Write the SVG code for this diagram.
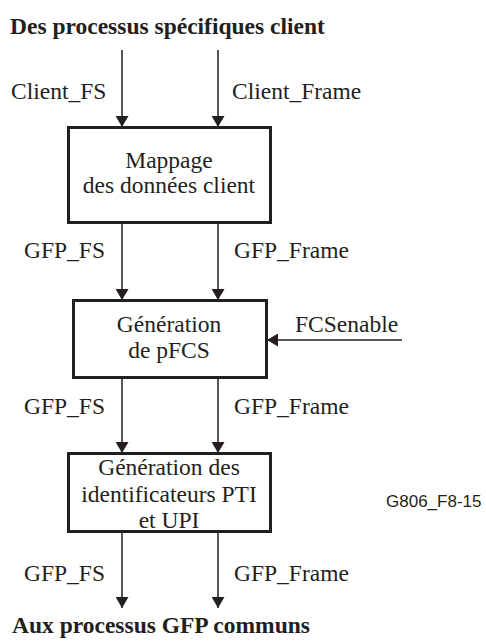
<svg xmlns="http://www.w3.org/2000/svg" width="486" height="643" viewBox="0 0 486 643">
<style>
.t{font-family:'Liberation Serif','Tinos','Times New Roman','DejaVu Serif',serif;font-size:23.5px;fill:#231f20}
.b{font-weight:bold}
.c{text-anchor:middle}
.s{font-family:'Liberation Sans',Arial,sans-serif;font-size:17px;fill:#231f20}
.box{fill:#fff;stroke:#231f20;stroke-width:3}
.ln{stroke:#231f20;stroke-width:1.5;fill:none}
</style>
<defs>
<marker id="ah" markerWidth="11" markerHeight="13" refX="11" refY="6.5" orient="auto" markerUnits="userSpaceOnUse" viewBox="0 0 11 13">
<path d="M0,0 L11,6.5 L0,13 Z" fill="#231f20"/>
</marker>
</defs>
<text class="t b" x="10" y="34">Des processus spécifiques client</text>
<g id="connectors">
<line class="ln" x1="122" y1="50" x2="122" y2="127" marker-end="url(#ah)"/>
<line class="ln" x1="218" y1="50" x2="218" y2="127" marker-end="url(#ah)"/>
<line class="ln" x1="122" y1="223" x2="122" y2="300" marker-end="url(#ah)"/>
<line class="ln" x1="218" y1="223" x2="218" y2="300" marker-end="url(#ah)"/>
<line class="ln" x1="402" y1="340" x2="267" y2="340" marker-end="url(#ah)"/>
<line class="ln" x1="122" y1="378" x2="122" y2="453" marker-end="url(#ah)"/>
<line class="ln" x1="218" y1="378" x2="218" y2="453" marker-end="url(#ah)"/>
<line class="ln" x1="122" y1="532" x2="122" y2="608" marker-end="url(#ah)"/>
<line class="ln" x1="218" y1="532" x2="218" y2="608" marker-end="url(#ah)"/>
<text class="t" x="11" y="99">Client_FS</text>
<text class="t" x="232" y="99">Client_Frame</text>
<text class="t" x="24" y="258">GFP_FS</text>
<text class="t" x="234" y="258">GFP_Frame</text>
<text class="t" x="295" y="332">FCSenable</text>
<text class="t" x="24" y="414">GFP_FS</text>
<text class="t" x="234" y="414">GFP_Frame</text>
<text class="t" x="24" y="581">GFP_FS</text>
<text class="t" x="234" y="581">GFP_Frame</text>
</g>
<g id="n1">
<rect class="box" x="68.5" y="127.5" width="202" height="95"/>
<text class="t c" x="169" y="168">Mappage</text>
<text class="t c" x="169" y="193">des données client</text>
</g>
<g id="n2">
<rect class="box" x="73.5" y="300.5" width="193" height="77"/>
<text class="t c" x="169" y="332">Génération</text>
<text class="t c" x="169" y="358">de pFCS</text>
</g>
<g id="n3">
<rect class="box" x="68.5" y="453.5" width="202" height="78"/>
<text class="t c" x="169" y="475">Génération des</text>
<text class="t c" x="169" y="502">identificateurs PTI</text>
<text class="t c" x="169" y="528">et UPI</text>
</g>
<text class="s" x="386" y="507">G806_F8-15</text>
<text class="t b" x="12" y="633">Aux processus GFP communs</text>
</svg>
